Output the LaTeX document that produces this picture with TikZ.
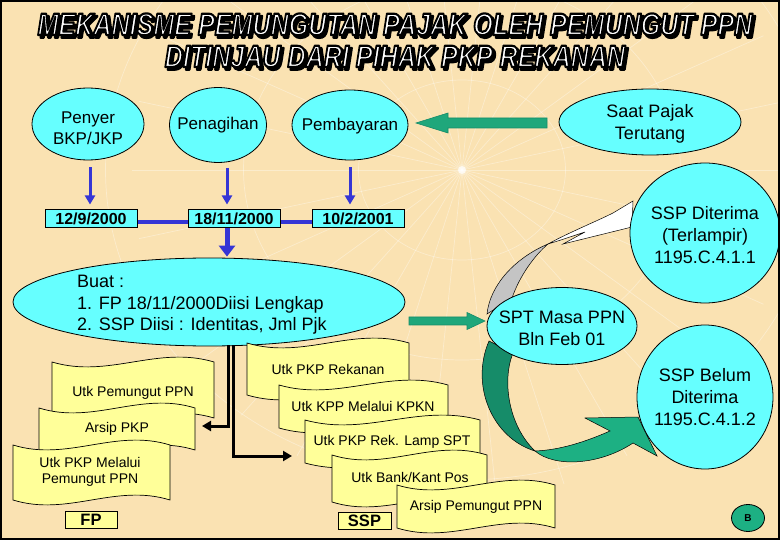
\documentclass[tikz,border=0pt]{standalone}
\usepackage{fontspec}
\setmainfont{Liberation Sans}
\usetikzlibrary{shapes.geometric,arrows.meta}
\definecolor{bg}{HTML}{FAE2B2}
\definecolor{cyanf}{HTML}{66FFFF}
\definecolor{blueA}{HTML}{3535D5}
\definecolor{greenA}{HTML}{1FA77B}
\definecolor{tealD}{HTML}{168C69}
\definecolor{tealL}{HTML}{1DB083}
\definecolor{docY}{HTML}{FFFF99}
\definecolor{greyA}{HTML}{C4C4C4}
\tikzset{
 ell/.style={ellipse, draw=black, line width=0.8pt, fill=cyanf, inner sep=0pt},
 elltext/.style={align=center, inner sep=0pt, font=\fontsize{17}{21}\selectfont},
 elltextb/.style={align=center, inner sep=0pt, font=\fontsize{18}{22}\selectfont},
 datebox/.style={draw=black, line width=1pt, fill=cyanf, minimum width=92pt, minimum height=18pt, inner sep=0pt, font=\bfseries\fontsize{16}{18}\selectfont},
 bluearr/.style={draw=blueA, line width=3pt, -{Triangle[width=10pt,length=9pt]}},
 bluethick/.style={draw=blueA, line width=5pt, -{Triangle[width=16pt,length=11pt]}},
 bluecon/.style={draw=blueA, line width=3.5pt},
 blackarr/.style={draw=black, line width=3pt, -{Triangle[width=10pt,length=9pt]}},
 blockarr/.style={fill=greenA, draw=tealD, line width=0.6pt},
 docsh/.style={fill=docY, draw=black, line width=0.7pt},
 doctext/.style={font=\fontsize{14}{16}\selectfont, align=center, inner sep=0pt},
 labbox/.style={draw=black, line width=0.9pt, fill=docY, minimum height=17pt, inner sep=0pt, font=\bfseries\fontsize{16.5}{18}\selectfont},
 titlef/.style={font=\bfseries\itshape\fontsize{31}{34}\selectfont, inner sep=0pt, anchor=base},
 globe/.style={white, opacity=0.35, line width=0.7pt},
}
\newcommand{\titleline}[4]{%
 \node[titlef,text=black] (#1s) at (#2+2.5,#3+2.5) {\scalebox{0.81}[1]{\special{pdf:literal direct 2 Tr 2.6 w 1 j}#4\special{pdf:literal direct 0 Tr}}};
 \node[titlef,text=white] (#1) at (#2,#3) {\scalebox{0.81}[1]{\special{pdf:literal direct 0 G 2 Tr 2.2 w 1 j}#4\special{pdf:literal direct 0 Tr}}};
}
\newcommand{\wavedoc}[8]{%
 \pgfmathsetmacro\wxa{#2+0.35*(#4-#2)}%
 \pgfmathsetmacro\wxb{#2+0.65*(#4-#2)}%
 \pgfmathsetmacro\wtu{#3+17}\pgfmathsetmacro\wtd{#3-17}%
 \pgfmathsetmacro\wbu{#5+17}\pgfmathsetmacro\wbd{#5-17}%
 \path[docsh] (#2,#3) .. controls (\wxa,\wtu) and (\wxb,\wtd) .. (#4,#3) -- (#4,#5) .. controls (\wxb,\wbd) and (\wxa,\wbu) .. (#2,#5) -- cycle;
 \node[doctext] (#1) at (#6,#7) {#8};
}
\begin{document}
\begin{tikzpicture}[x=1pt,y=-1pt]
\useasboundingbox (0,0) rectangle (780,540);
\fill[bg] (0,0) rectangle (780,540);
% background globe
\begin{scope}
\clip (0,0) rectangle (780,540);
\foreach \a in {0,12,...,348} \draw[globe] (462,170) -- ++(\a:330);
\foreach \r in {90,190,310} \draw[globe] (462,170) ellipse ({\r*1.15} and \r);
\fill[white, opacity=0.7] (462,170) circle (4);
\end{scope}
% title
\titleline{t1}{395}{35}{MEKANISME PEMUNGUTAN PAJAK OLEH PEMUNGUT PPN}
\titleline{t2}{395}{67}{DITINJAU DARI PIHAK PKP REKANAN}
% top ellipses
\node[ell, minimum width=112pt, minimum height=72pt] (penyer) at (88,124) {};
\node[elltext] (penyertxt) at (88,128) {Penyer\\BKP/JKP};
\node[ell, minimum width=97pt, minimum height=75pt] (penagihan) at (218,125) {};
\node[elltext] (penagihantxt) at (penagihan) {Penagihan};
\node[ell, minimum width=116pt, minimum height=70pt] (pembayaran) at (350,125) {};
\node[elltext] (pembayarantxt) at (350,126) {Pembayaran};
\node[ell, minimum width=182pt, minimum height=66pt] (saat) at (650,122) {};
\node[elltextb] (saattxt) at (650,124) {Saat Pajak\\Terutang};
% green arrow saat -> pembayaran
\path[blockarr] (547,118) -- (448,118) -- (448,113) -- (416,123) -- (448,133) -- (448,128) -- (547,128) -- cycle;
% date boxes
\node[datebox] (d1) at (91,219) {12/9/2000};
\node[datebox] (d2) at (234,219) {18/11/2000};
\node[datebox] (d3) at (358,219) {10/2/2001};
\draw[bluearr] ([xshift=2pt,yshift=-7pt]penyer.south) -- ([xshift=-1pt,yshift=5pt]d1.north);
\draw[bluearr] ([xshift=9pt,yshift=-5pt]penagihan.south) -- ([xshift=-7pt,yshift=5pt]d2.north);
\draw[bluearr] ([yshift=-7pt]pembayaran.south) -- ([xshift=-8pt,yshift=5pt]d3.north);
\draw[bluecon] ([yshift=-3pt]d1.east) -- ([yshift=-3pt]d2.west);
\draw[bluecon] ([yshift=-3pt]d2.east) -- ([yshift=-3pt]d3.west);
% Buat ellipse
\node[ell, minimum width=392pt, minimum height=88pt] (buat) at (209,302) {};
\draw[bluethick] ([xshift=-7pt]d2.south) -- ([xshift=18pt,yshift=1pt]buat.north);
\node[anchor=west, align=left, inner sep=0pt, font=\fontsize{18}{21.5}\selectfont] (buattxt) at (77,305) {Buat :\\1. FP 18/11/2000Diisi Lengkap\\2. SSP Diisi : Identitas, Jml Pjk};
% black connectors
\coordinate (fpin) at (202,426);
\coordinate (sspin) at (292,456);
\draw[blackarr] ([xshift=19pt,yshift=1pt]buat.south) |- (fpin);
\draw[blackarr] ([xshift=24pt,yshift=1pt]buat.south) |- (sspin);
% FP stack
\wavedoc{fp1}{52}{362}{214}{418}{133}{393}{Utk Pemungut PPN}
\wavedoc{fp2}{39}{408}{195}{450}{117}{429}{Arsip PKP}
\wavedoc{fp3}{13}{445}{170}{500}{90}{472}{Utk PKP Melalui\\Pemungut PPN}
\node[labbox, minimum width=52pt] (fplab) at (91,519.5) {FP};
% SSP stack
\wavedoc{ss1}{247}{343}{409}{395}{328}{369}{Utk PKP Rekanan}
\wavedoc{ss2}{279}{385}{448}{428}{363}{406}{Utk KPP Melalui KPKN}
\wavedoc{ss3}{305}{420}{480}{463}{392}{442}{Utk PKP Rek. Lamp SPT}
\wavedoc{ss4}{332}{455}{487}{502}{410}{477}{Utk Bank/Kant Pos}
\wavedoc{ss5}{397}{485}{555}{528}{476}{507}{Arsip Pemungut PPN}
\node[labbox, minimum width=53pt] (ssplab) at (364.5,520.5) {SSP};
% green arrow buat -> spt
\path[blockarr] (409,317) -- (467,317) -- (467,312.5) -- (485,321) -- (467,329.5) -- (467,325) -- (409,325) -- cycle;
% curved grey/white arrow
\path[fill=greyA, draw=black, line width=0.5pt] (487,314) .. controls (490,285) and (515,258) .. (548,244) .. controls (535,255) and (520,275) .. (512,298) -- cycle;
\path[fill=white, draw=black, line width=0.5pt] (548,244) .. controls (570,232) and (595,222) .. (613,213) -- (633,201) -- (632,227) -- (563,244) -- (585,232) .. controls (570,237) and (558,241) .. (548,244) -- cycle;
% curved teal arrow
\path[fill=tealD, draw=black, line width=0.5pt] (489,341) .. controls (470,385) and (492,438) .. (535,451) .. controls (508,425) and (502,380) .. (513,353) -- cycle;
\path[fill=tealL, draw=black, line width=0.5pt] (535,451) .. controls (555,468) and (600,465) .. (633,443) -- (657,456) -- (638,417) -- (585,418) -- (610,431) .. controls (585,442) and (560,450) .. (535,451) -- cycle;
% right ellipses
\node[ell, minimum width=150pt, minimum height=77pt] (spt) at (562,326) {};
\node[elltextb] (spttxt) at (562,328) {SPT Masa PPN\\Bln Feb 01};
\node[ell, minimum width=150pt, minimum height=140pt] (sspd) at (705,233) {};
\node[elltextb] (sspdtxt) at (705,235) {SSP Diterima\\(Terlampir)\\1195.C.4.1.1};
\node[ell, minimum width=136pt, minimum height=144pt] (sspb) at (705,397) {};
\node[elltextb] (sspbtxt) at (705,397) {SSP Belum\\Diterima\\1195.C.4.1.2};
\node[ellipse, draw=black, line width=0.8pt, fill=tealL, minimum width=33pt, minimum height=27pt, inner sep=0pt, font=\bfseries\fontsize{10}{12}\selectfont] (bnode) at (748,518) {B};
% frame
\draw[black, line width=2pt] (1,1) rectangle (779,539);
\end{tikzpicture}
\end{document}
